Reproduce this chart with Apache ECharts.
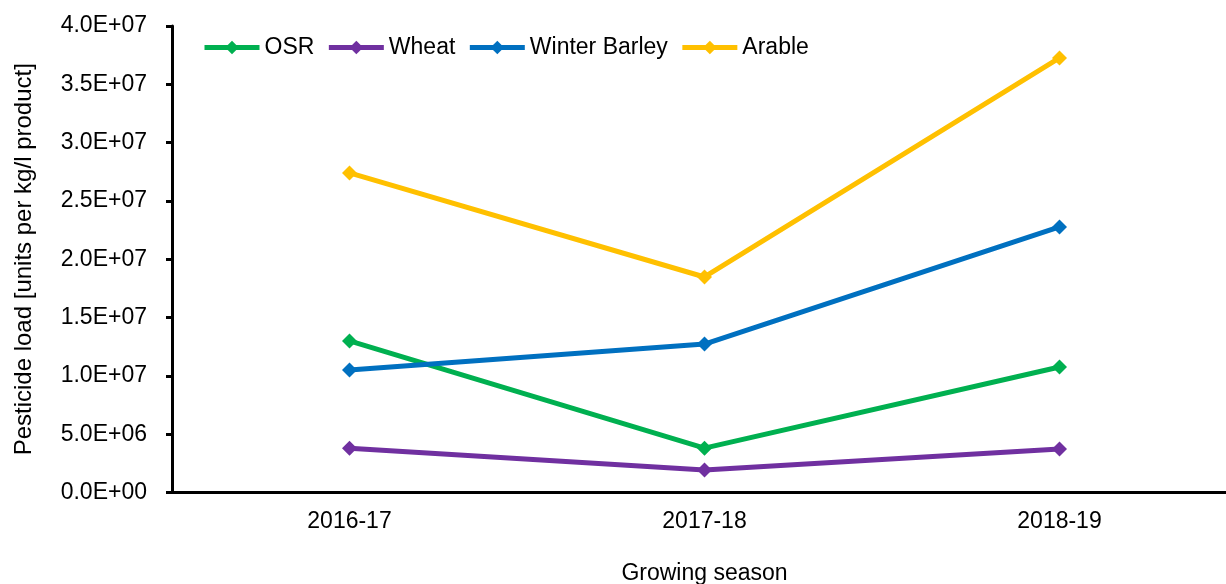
<!DOCTYPE html>
<html><head><meta charset="utf-8">
<script src="https://cdn.jsdelivr.net/npm/echarts@6/dist/echarts.min.js"></script>
<style>html,body{margin:0;padding:0;background:#fff}#c{width:1226px;height:584px}</style>
</head><body><div id="c"></div>
<script>
var categories = ['2016-17', '2017-18', '2018-19'];
var osr = [1.30e7, 3.8e6, 1.076e7];
var wheat = [3.8e6, 1.93e6, 3.73e6];
var winterBarley = [1.05e7, 1.273e7, 2.277e7];
var arable = [2.74e7, 1.848e7, 3.726e7];
var seriesNames = ['OSR', 'Wheat', 'Winter Barley', 'Arable'];
var colors = ['#00B050', '#7030A0', '#0070C0', '#FFC000'];

function fmt(v) {
  if (v === 0) return '0.0E+00';
  var e = Math.floor(Math.log10(Math.abs(v)) + 1e-9);
  var m = v / Math.pow(10, e);
  return m.toFixed(1) + 'E+' + (e < 10 ? '0' : '') + e;
}
var font = 'Liberation Sans, Arial, sans-serif';
var chart = echarts.init(document.getElementById('c'));
var data = [osr, wheat, winterBarley, arable];
chart.setOption({
  animation: false,
  color: colors,
  textStyle: {fontFamily: font},
  legend: {
    left: 202, top: 36, padding: 0,
    itemWidth: 55, itemHeight: 17, itemGap: 12,
    lineStyle: {width: 5},
    textStyle: {fontSize: 23, color: '#000', fontFamily: font},
    data: seriesNames
  },
  grid: {left: 172, top: 26, width: 1065, height: 466.5, containLabel: false, outerBoundsMode: 'none'},
  xAxis: {
    type: 'category', data: categories, boundaryGap: true,
    name: 'Growing season', nameLocation: 'middle', nameGap: 70,
    nameTextStyle: {fontSize: 23, color: '#000', fontFamily: font},
    axisLine: {lineStyle: {color: '#000', width: 3}},
    axisTick: {alignWithLabel: true, length: 5, lineStyle: {color: '#000', width: 3}},
    axisLabel: {fontSize: 23, color: '#000', margin: 18, fontFamily: font}
  },
  yAxis: {
    type: 'value', min: 0, max: 4e7, interval: 5e6,
    name: 'Pesticide load [units per kg/l product]', nameLocation: 'middle', nameGap: 136,
    nameTextStyle: {fontSize: 24, color: '#000', fontFamily: font},
    axisLine: {show: true, lineStyle: {color: '#000', width: 3}},
    axisTick: {show: true, length: 6, lineStyle: {color: '#000', width: 3}},
    splitLine: {show: false},
    axisLabel: {fontSize: 23, color: '#000', margin: 25, formatter: fmt, fontFamily: font}
  },
  series: seriesNames.map(function (n, i) {
    return {
      name: n, type: 'line', data: data[i],
      symbol: 'diamond', symbolSize: 15,
      lineStyle: {width: 5, color: colors[i]},
      itemStyle: {color: colors[i]}
    };
  })
});
</script></body></html>
